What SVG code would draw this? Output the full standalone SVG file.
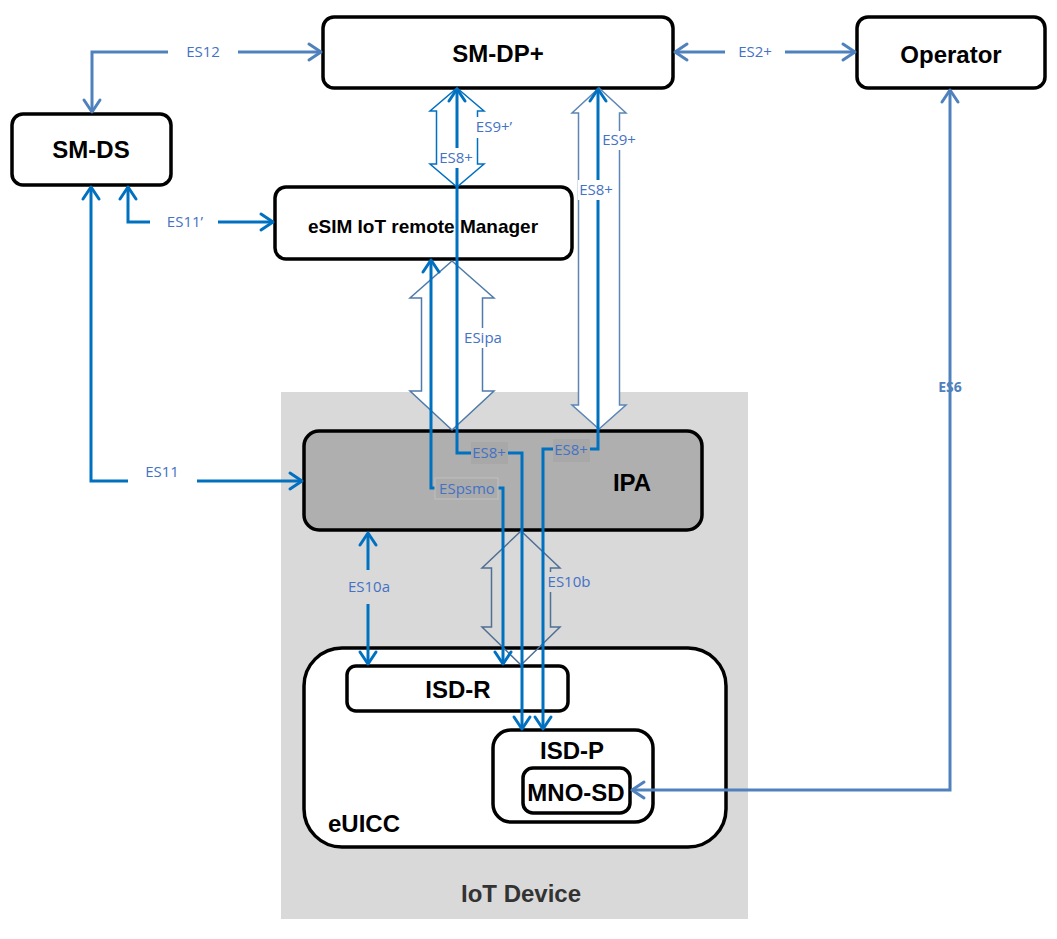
<svg xmlns="http://www.w3.org/2000/svg" width="1057" height="939" viewBox="0 0 1057 939">
<style>
.box{fill:#fff;stroke:#000;stroke-width:3.5}
.nt{font-family:"Liberation Sans",Arial,sans-serif;font-weight:bold;font-size:24px;fill:#000;text-anchor:middle}
.lb{font-family:"Open Sans","Noto Sans",sans-serif;font-size:15px;fill:#4472C4;text-anchor:middle}
.c1{fill:none;stroke:#0070C0;stroke-width:3}
.c2{fill:none;stroke:#4F81BD;stroke-width:3}
.blk{stroke-width:1.5;stroke-linejoin:miter}
.wbg{fill:#fff}
.gbg{fill:#D9D9D9}
.ibg{fill:#A8A8A8}
</style>
<defs>
<marker id="a1" markerUnits="userSpaceOnUse" markerWidth="20" markerHeight="20" viewBox="-2 -2 18 20" refX="13" refY="8" orient="auto-start-reverse" overflow="visible">
<path d="M1,0 L13,8 L1,16" fill="none" stroke="#0070C0" stroke-width="3" stroke-linejoin="round" stroke-linecap="round"/>
</marker>
<marker id="a2" markerUnits="userSpaceOnUse" markerWidth="20" markerHeight="20" viewBox="-2 -2 18 20" refX="13" refY="8" orient="auto-start-reverse" overflow="visible">
<path d="M1,0 L13,8 L1,16" fill="none" stroke="#4F81BD" stroke-width="3" stroke-linejoin="round" stroke-linecap="round"/>
</marker>
</defs>

<g id="iot-device">
<rect x="281" y="392" width="467" height="527" fill="#D9D9D9"/>
<text class="nt" x="521" y="902" style="fill:#333">IoT Device</text>
</g>

<g id="sm-dp">
<rect class="box" x="323" y="17" width="350" height="71" rx="11"/>
<text class="nt" x="498" y="62">SM-DP+</text>
</g>
<g id="operator">
<rect class="box" x="857" y="17" width="188" height="71" rx="11"/>
<text class="nt" x="951" y="63">Operator</text>
</g>
<g id="sm-ds">
<rect class="box" x="12" y="114" width="159" height="71" rx="11"/>
<text class="nt" x="91" y="158">SM-DS</text>
</g>
<g id="esim-manager">
<rect class="box" x="275" y="187" width="297" height="72" rx="11"/>
<text class="nt" x="423" y="233" style="font-size:19px">eSIM IoT remote Manager</text>
</g>
<g id="ipa">
<rect class="box" x="304" y="431" width="398" height="99" rx="15" style="fill:#AFAFAF"/>
<text class="nt" x="632" y="491">IPA</text>
</g>
<g id="euicc">
<rect class="box" x="304" y="648" width="422" height="199" rx="38"/>
<text class="nt" x="328" y="832" style="text-anchor:start">eUICC</text>
</g>
<g id="isd-r">
<rect class="box" x="347" y="666" width="221" height="45" rx="9"/>
<text class="nt" x="458" y="698">ISD-R</text>
</g>
<g id="isd-p">
<rect class="box" x="493" y="730" width="160" height="92" rx="18"/>
<text class="nt" x="572" y="759">ISD-P</text>
</g>
<g id="mno-sd">
<rect class="box" x="523" y="768" width="107" height="45" rx="10"/>
<text class="nt" x="576" y="801">MNO-SD</text>
</g>

<g id="connectors">
<path class="blk" fill="#fff" stroke="#0070C0" d="M457,88 L484,111 L477.5,111 L477.5,164 L484,164 L457,187 L430,164 L436.5,164 L436.5,111 L430,111 Z"/>
<path class="blk" fill="#fff" stroke="#5B86B5" d="M599,88 L626,113 L619.5,113 L619.5,405 L626,405 L599,429 L572,405 L578.5,405 L578.5,113 L572,113 Z"/>
<path class="blk" fill="#fff" stroke="#4F7BAA" d="M452,261 L494,298 L482.5,298 L482.5,391 L494,391 L452,430 L410,391 L421.5,391 L421.5,298 L410,298 Z"/>
<path class="blk" fill="none" stroke="#4F6F94" d="M521,531 L560,568 L550.5,568 L550.5,627 L560,627 L521,665 L482,627 L491.5,627 L491.5,568 L482,568 Z"/>

<path class="c2" d="M321,52 L92,52 L92,112" marker-start="url(#a2)" marker-end="url(#a2)"/>
<path class="c2" d="M675,52 L855,52" marker-start="url(#a2)" marker-end="url(#a2)"/>
<path class="c2" d="M950,90 L950,790 L632,790" marker-start="url(#a2)" marker-end="url(#a2)"/>
<path class="c1" d="M128,187 L128,222 L273,222" marker-start="url(#a1)" marker-end="url(#a1)"/>
<path class="c1" d="M91,187 L91,481 L302,481" marker-start="url(#a1)" marker-end="url(#a1)"/>
<path class="c1" d="M368,533 L368,664" marker-start="url(#a1)" marker-end="url(#a1)"/>
<path class="c1" d="M457,89 L457,453 L522,453 L522,729" marker-start="url(#a1)" marker-end="url(#a1)"/>
<path class="c1" d="M598,89 L598,449 L543,449 L543,729" marker-start="url(#a1)" marker-end="url(#a1)"/>
<path class="c1" d="M431,260 L431,488 L503,488 L503,664" marker-start="url(#a1)" marker-end="url(#a1)"/>

<rect class="wbg" x="168" y="42" width="70" height="20"/>
<rect class="wbg" x="725" y="42" width="60" height="20"/>
<rect class="wbg" x="150" y="212" width="68" height="20"/>
<rect class="wbg" x="128" y="466" width="69" height="22"/>
<rect class="gbg" x="345" y="570" width="48" height="34"/>
<rect class="gbg" x="546" y="572" width="46" height="20"/>
<rect class="wbg" x="462" y="328" width="42" height="20"/>
<rect class="wbg" x="472" y="117" width="44" height="21"/>
<rect class="wbg" x="438" y="148" width="37" height="20"/>
<rect class="wbg" x="601" y="131" width="37" height="19"/>
<rect class="wbg" x="578" y="180" width="37" height="20"/>
<rect class="ibg" x="471" y="442" width="37" height="22"/>
<rect class="ibg" x="553" y="439" width="37" height="23"/>
<rect x="435" y="478" width="63" height="21" fill="#ABABAB" stroke="#C0C0C0" stroke-width="1"/>

<text class="lb" x="203" y="57">ES12</text>
<text class="lb" x="755" y="57">ES2+</text>
<text class="lb" x="185" y="227">ES11’</text>
<text class="lb" x="162" y="477">ES11</text>
<text class="lb" x="369" y="592">ES10a</text>
<text class="lb" x="569" y="587">ES10b</text>
<text class="lb" x="483" y="343">ESipa</text>
<text class="lb" x="494" y="132">ES9+’</text>
<text class="lb" x="456" y="163">ES8+</text>
<text class="lb" x="619" y="145">ES9+</text>
<text class="lb" x="596" y="195">ES8+</text>
<text class="lb" x="489" y="458">ES8+</text>
<text class="lb" x="571" y="455">ES8+</text>
<text class="lb" x="467" y="494">ESpsmo</text>
<text class="lb" x="950" y="392" style="font-size:14px;font-weight:bold;fill:#4F81BD">ES6</text>
</g>
</svg>
